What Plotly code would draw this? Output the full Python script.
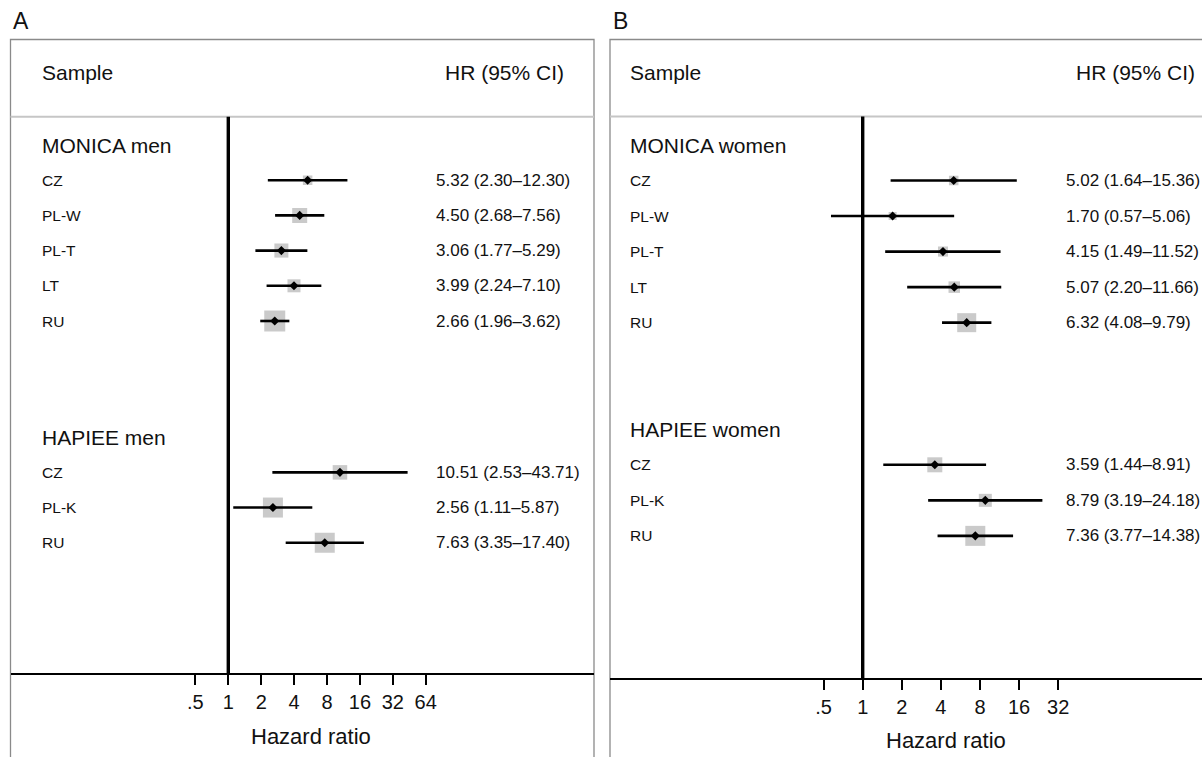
import numpy as np
import plotly.graph_objects as go

# ---------------- data ----------------
tick_vals = [0.5, 1, 2, 4, 8, 16, 32, 64]
tick_text_a = [".5", "1", "2", "4", "8", "16", "32", "64"]
tick_vals_b = [0.5, 1, 2, 4, 8, 16, 32]
tick_text_b = [".5", "1", "2", "4", "8", "16", "32"]

# Panel A - men
monica_men_labels = ["CZ", "PL-W", "PL-T", "LT", "RU"]
monica_men_hr = [5.32, 4.50, 3.06, 3.99, 2.66]
monica_men_lo = [2.30, 2.68, 1.77, 2.24, 1.96]
monica_men_hi = [12.30, 7.56, 5.29, 7.10, 3.62]
monica_men_weight = [9.5, 15, 14, 13, 21]

hapiee_men_labels = ["CZ", "PL-K", "RU"]
hapiee_men_hr = [10.51, 2.56, 7.63]
hapiee_men_lo = [2.53, 1.11, 3.35]
hapiee_men_hi = [43.71, 5.87, 17.40]
hapiee_men_weight = [14.5, 20, 20]

# Panel B - women
monica_women_labels = ["CZ", "PL-W", "PL-T", "LT", "RU"]
monica_women_hr = [5.02, 1.70, 4.15, 5.07, 6.32]
monica_women_lo = [1.64, 0.57, 1.49, 2.20, 4.08]
monica_women_hi = [15.36, 5.06, 11.52, 11.66, 9.79]
monica_women_weight = [9.5, 8, 10, 11.5, 19]

hapiee_women_labels = ["CZ", "PL-K", "RU"]
hapiee_women_hr = [3.59, 8.79, 7.36]
hapiee_women_lo = [1.44, 3.19, 3.77]
hapiee_women_hi = [8.91, 24.18, 14.38]
hapiee_women_weight = [15, 13, 20]

# ---------------- layout helpers ----------------
W, H = 1202, 757
FONT = "Liberation Sans, Arial, sans-serif"
TXT = "#111111"
BOX_TOP = 39.5

panels = [
    dict(letter="A", xa="x", ya="y", xaxis="xaxis", yaxis="yaxis",
         left=10.5, right=594.0, box_right=594.0, axis_px=673.0, one_px=228.3,
         per_dbl=32.9, text_left=40, ci_left=434, head_right=566, letter_x=11,
         title_x=311, title_y=736, starts=[0, 8.3],
         ticks=(tick_vals, tick_text_a),
         groups=[("MONICA men", monica_men_labels, monica_men_hr, monica_men_lo,
                  monica_men_hi, monica_men_weight),
                 ("HAPIEE men", hapiee_men_labels, hapiee_men_hr, hapiee_men_lo,
                  hapiee_men_hi, hapiee_men_weight)]),
    dict(letter="B", xa="x2", ya="y2", xaxis="xaxis2", yaxis="yaxis2",
         left=610.0, right=1202.0, box_right=1225.0, axis_px=678.0, one_px=862.7,
         per_dbl=39.1, text_left=628, ci_left=1064, head_right=1197, letter_x=611,
         title_x=946, title_y=740, starts=[0, 8],
         ticks=(tick_vals_b, tick_text_b),
         groups=[("MONICA women", monica_women_labels, monica_women_hr,
                  monica_women_lo, monica_women_hi, monica_women_weight),
                 ("HAPIEE women", hapiee_women_labels, hapiee_women_hr,
                  hapiee_women_lo, hapiee_women_hi, hapiee_women_weight)]),
]

ROW0_PX = 145.0
AXIS_ROW = 15
SEP_ROW = -0.8
HEAD_ROW = -2.05

fig = go.Figure()
annotations = []
shapes = []
layout = {}

for p in panels:
    spacing = (p["axis_px"] - ROW0_PX) / AXIS_ROW
    r_top = AXIS_ROW - (p["axis_px"] - BOX_TOP) / spacing
    xa, ya = p["xa"], p["ya"]
    yref = ya

    rows_all, hr_all, lo_all, hi_all, w_all = [], [], [], [], []
    for gi, (gname, labels, hr, lo, hi, wt) in enumerate(p["groups"]):
        start = p["starts"][gi]
        annotations.append(dict(x=p["text_left"] / W, xref="paper", y=start, yref=yref,
                                text=gname, showarrow=False, xanchor="left",
                                yanchor="middle", font=dict(size=21, color=TXT, family=FONT)))
        for i, lab in enumerate(labels):
            r = start + 1 + i
            rows_all.append(r)
            hr_all.append(hr[i]); lo_all.append(lo[i]); hi_all.append(hi[i]); w_all.append(wt[i])
            annotations.append(dict(x=p["text_left"] / W, xref="paper", y=r, yref=yref,
                                    text=lab, showarrow=False, xanchor="left",
                                    yanchor="middle", font=dict(size=15.5, color=TXT, family=FONT)))
            annotations.append(dict(x=p["ci_left"] / W, xref="paper", y=r, yref=yref,
                                    text=f"{hr[i]:.2f} ({lo[i]:.2f}\u2013{hi[i]:.2f})",
                                    showarrow=False, xanchor="left", yanchor="middle",
                                    font=dict(size=17, color=TXT, family=FONT)))

    # weight squares
    fig.add_trace(go.Scatter(x=hr_all, y=rows_all, xaxis=xa, yaxis=ya, mode="markers",
                             marker=dict(symbol="square", size=w_all, color="#b3b3b3",
                                         line=dict(width=0)),
                             hoverinfo="skip", showlegend=False))
    # reference line at HR = 1
    fig.add_trace(go.Scatter(x=[1, 1], y=[SEP_ROW, AXIS_ROW], xaxis=xa, yaxis=ya,
                             mode="lines", line=dict(color="black", width=3.4),
                             hoverinfo="skip", showlegend=False))
    # CI lines
    cx, cy = [], []
    for r, lo_, hi_ in zip(rows_all, lo_all, hi_all):
        cx += [lo_, hi_, None]
        cy += [r, r, None]
    fig.add_trace(go.Scatter(x=cx, y=cy, xaxis=xa, yaxis=ya, mode="lines",
                             line=dict(color="black", width=2.6),
                             hoverinfo="skip", showlegend=False))
    # point estimates
    fig.add_trace(go.Scatter(x=hr_all, y=rows_all, xaxis=xa, yaxis=ya, mode="markers",
                             marker=dict(symbol="diamond", size=7, color="black"),
                             hoverinfo="skip", showlegend=False))

    # headers and titles
    annotations.append(dict(x=p["text_left"] / W, xref="paper", y=HEAD_ROW, yref=yref,
                            text="Sample", showarrow=False, xanchor="left", yanchor="middle",
                            font=dict(size=21, color=TXT, family=FONT)))
    annotations.append(dict(x=p["head_right"] / W, xref="paper", y=HEAD_ROW, yref=yref,
                            text="HR (95% CI)", showarrow=False, xanchor="right",
                            yanchor="middle", font=dict(size=21, color=TXT, family=FONT)))
    annotations.append(dict(x=p["letter_x"] / W, xref="paper", y=1 - 21 / H, yref="paper",
                            text=p["letter"], showarrow=False, xanchor="left",
                            yanchor="middle", font=dict(size=23, color=TXT, family=FONT)))
    annotations.append(dict(x=p["title_x"] / W, xref="paper", y=1 - p["title_y"] / H,
                            yref="paper", text="Hazard ratio", showarrow=False,
                            xanchor="center", yanchor="middle",
                            font=dict(size=22, color=TXT, family=FONT)))

    # panel box and header separator
    shapes.append(dict(type="rect", xref="paper", yref="paper",
                       x0=p["left"] / W, x1=p["box_right"] / W,
                       y0=-0.05, y1=1 - BOX_TOP / H,
                       line=dict(color="#8a8a8a", width=1.3), fillcolor="rgba(0,0,0,0)",
                       layer="below"))
    shapes.append(dict(type="line", xref="paper", yref=yref,
                       x0=p["left"] / W, x1=min(p["box_right"], W) / W,
                       y0=SEP_ROW, y1=SEP_ROW,
                       line=dict(color="#c6c6c6", width=2), layer="below"))

    lg2 = np.log10(2)
    xrange = [lg2 * (p["left"] - p["one_px"]) / p["per_dbl"],
              lg2 * (p["right"] - p["one_px"]) / p["per_dbl"]]
    tv, tt = p["ticks"]
    layout[p["xaxis"]] = dict(
        domain=[p["left"] / W, p["right"] / W], anchor=ya, type="log", range=xrange,
        tickmode="array", tickvals=tv, ticktext=tt, ticks="outside", ticklen=10,
        tickwidth=2, tickcolor="black", showline=True, linecolor="black", linewidth=2,
        showgrid=False, zeroline=False, tickfont=dict(size=20, color=TXT, family=FONT),
        fixedrange=True)
    layout[p["yaxis"]] = dict(
        domain=[(H - p["axis_px"]) / H, 1 - BOX_TOP / H], anchor=xa,
        range=[AXIS_ROW, r_top], visible=False, showgrid=False, zeroline=False,
        fixedrange=True)

fig.update_layout(
    width=W, height=H, margin=dict(l=0, r=0, t=0, b=0),
    paper_bgcolor="white", plot_bgcolor="white", showlegend=False,
    annotations=annotations, shapes=shapes, **layout)

fig.write_html("out.html",
               config={"displayModeBar": False},
               post_script="document.body.style.margin='0';"
                           "document.body.style.overflow='hidden';")
